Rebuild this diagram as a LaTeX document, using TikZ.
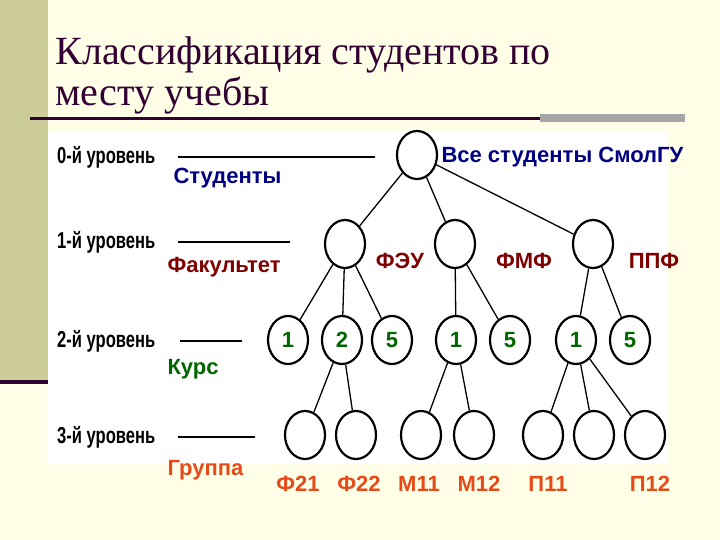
\documentclass[tikz,border=0pt]{standalone}
\usepackage{fontspec}
\usepackage{graphicx}
\setmainfont{Liberation Serif}
\newfontfamily\arial{Liberation Sans}
\usetikzlibrary{shapes.geometric}
\definecolor{bgy}{HTML}{FFFFE8}
\definecolor{olive}{HTML}{CCCC99}
\definecolor{ttl}{HTML}{330033}
\definecolor{cblue}{HTML}{000080}
\definecolor{cred}{HTML}{800000}
\definecolor{cgreen}{HTML}{006600}
\definecolor{corange}{HTML}{E64A19}
\begin{document}
\begin{tikzpicture}[x=1pt,y=-1pt,
  circ/.style={draw,line width=2.2pt,ellipse,minimum width=40pt,minimum height=48pt,inner sep=0pt,
     font=\arial\bfseries\fontsize{22}{22}\selectfont,text=cgreen},
  edge/.style={line width=1.3pt},
  lvl/.style={font=\arial\bfseries\fontsize{23}{23}\selectfont,anchor=west,inner sep=0pt},
  lab/.style={font=\arial\bfseries\fontsize{22}{22}\selectfont},
  ruleline/.style={line width=2pt}]
\fill[bgy] (0,0) rectangle (720,540);
\fill[olive] (0,0) rectangle (48,382);
\fill[ttl] (0,380) rectangle (48,384);
\fill[white] (48,132) rectangle (668,463);
\node[anchor=west,text=ttl,font=\fontsize{40}{40}\selectfont] (t1) at (52,55) {Классификация студентов по};
\node[anchor=west,text=ttl,font=\fontsize{40}{40}\selectfont] (t2) at (52,96) {месту учебы};
\fill[ttl] (30,117) rectangle (540,120);
\fill[gray!70] (540,114) rectangle (685,122);
% levels
\node[lvl] (l0) at (57,157) {\scalebox{0.72}[1]{0-й уровень}};
\node[lvl] (l1) at (57,242) {\scalebox{0.72}[1]{1-й уровень}};
\node[lvl] (l2) at (57,341) {\scalebox{0.72}[1]{2-й уровень}};
\node[lvl] (l3) at (57,437) {\scalebox{0.72}[1]{3-й уровень}};
\coordinate (a0) at (178,157); \coordinate (b0) at (375,157);
\coordinate (a1) at (178,242); \coordinate (b1) at (290,242);
\coordinate (a2) at (180,341); \coordinate (b2) at (242,341);
\coordinate (a3) at (178,437); \coordinate (b3) at (255,437);
\foreach \i in {0,...,3} \draw[ruleline] (a\i) -- (b\i);
\node[lab,text=cblue,anchor=west] (s) at (170,178) {Студенты};
\node[lab,text=cred,anchor=west] (f) at (164,267) {Факультет};
\node[lab,text=cgreen,anchor=west] (k) at (164,369) {Курс};
\node[lab,text=corange,anchor=west] (g) at (164,470) {Группа};
% tree
\node[circ] (r) at (417,155) {};
\node[circ] (n1) at (345,244) {};
\node[circ] (n2) at (455,244) {};
\node[circ] (n3) at (593,244) {};
\node[circ] (c1) at (288,340) {1};
\node[circ] (c2) at (342,340) {2};
\node[circ] (c3) at (392,340) {5};
\node[circ] (c4) at (456,340) {1};
\node[circ] (c5) at (510,340) {5};
\node[circ] (c6) at (576,340) {1};
\node[circ] (c7) at (630,340) {5};
\node[circ] (g1) at (305,435) {};
\node[circ] (g2) at (356,435) {};
\node[circ] (g3) at (421,435) {};
\node[circ] (g4) at (474,435) {};
\node[circ] (g5) at (543,435) {};
\node[circ] (g6) at (594,435) {};
\node[circ] (g7) at (645,435) {};
\foreach \a/\b in {r/n1,r/n2,r/n3,n1/c1,n1/c2,n1/c3,n2/c4,n2/c5,n3/c6,n3/c7,c2/g1,c2/g2,c4/g3,c4/g4,c6/g5,c6/g6,c6/g7}
  \draw[edge] (\a) -- (\b);
\node[lab,text=cblue,anchor=west] (all) at (438,157) {Все студенты СмолГУ};
\node[lab,text=cred] (fe) at (400,261) {ФЭУ};
\node[lab,text=cred] (fm) at (524,261) {ФМФ};
\node[lab,text=cred] (pp) at (654,261) {ППФ};
\foreach \n/\x/\t in {q1/298/Ф21,q2/359/Ф22,q3/419/М11,q4/479/М12,q5/548/П11,q6/650/П12}
  \node[lab,text=corange] (\n) at (\x,484) {\t};
\end{tikzpicture}
\end{document}
